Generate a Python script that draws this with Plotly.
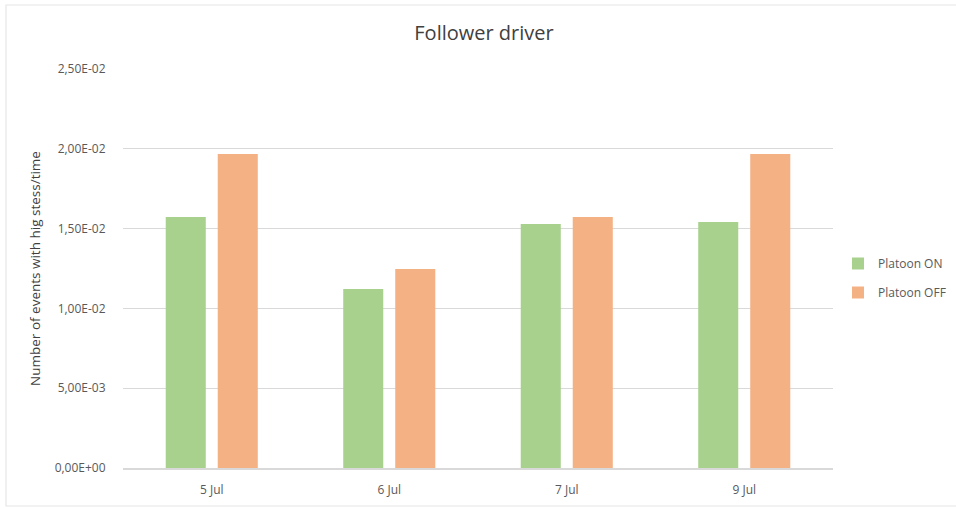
import plotly.graph_objects as go

# Dates of the driving sessions
categories = ["5 Jul", "6 Jul", "7 Jul", "9 Jul"]

# Number of high-stress events per unit time for the follower driver
platoon_on = [0.01573, 0.01122, 0.01529, 0.01541]
platoon_off = [0.01967, 0.01247, 0.01573, 0.01967]

# Y-axis ticks in Excel-style scientific notation with decimal comma
y_tick_vals = [0.0, 0.005, 0.01, 0.015, 0.02, 0.025]
y_tick_text = ["0,00E+00", "5,00E-03", "1,00E-02", "1,50E-02", "2,00E-02", "2,50E-02"]

W, H = 956, 508
L, R, T, B = 123, 123, 69, 40
pw, ph = W - L - R, H - T - B

def px_x(x):
    return (x - L) / pw

def px_y(y):
    return (H - B - y) / ph

font_family = "Open Sans, Liberation Sans, sans-serif"
text_grey = "#595959"

fig = go.Figure()
fig.add_trace(go.Bar(name="Platoon ON", x=categories, y=platoon_on, legendgroup="on",
                     marker=dict(color="#A9D18E", line=dict(width=0))))
fig.add_trace(go.Bar(name="Platoon OFF", x=categories, y=platoon_off, legendgroup="off",
                     marker=dict(color="#F4B183", line=dict(width=0))))

fig.update_layout(
    width=W, height=H,
    margin=dict(l=L, r=R, t=T, b=B, autoexpand=False),
    paper_bgcolor="white", plot_bgcolor="white",
    barmode="group", bargap=0.414, bargroupgap=0.23,
    font=dict(family=font_family, color=text_grey, size=12),
    title=dict(text="Follower driver", x=px_x(484), xref="paper", xanchor="center",
               y=1 - 33 / H, yanchor="middle",
               font=dict(size=20, color="#404040", family=font_family)),
    showlegend=True,
    legend=dict(x=px_x(838), xanchor="left", y=px_y(278), yanchor="middle",
                font=dict(size=12, color=text_grey), itemwidth=30,
                tracegroupgap=10, bgcolor="rgba(0,0,0,0)"),
    xaxis=dict(showline=True, linecolor="#d9d9d9", linewidth=1.5,
               ticks="outside", ticklen=10, tickcolor="rgba(0,0,0,0)",
               tickfont=dict(size=12, color=text_grey), showgrid=False),
    yaxis=dict(range=[0, 0.025], tickvals=y_tick_vals, ticktext=y_tick_text,
               showgrid=True, gridcolor="#d9d9d9", gridwidth=1.2, zeroline=False,
               ticks="outside", ticklen=14, tickcolor="rgba(0,0,0,0)",
               tickfont=dict(size=12, color=text_grey),
               title=dict(text="Number of events with hig stess/time",
                          font=dict(size=13.5, color="#404040"), standoff=10)),
    shapes=[dict(type="rect", xref="paper", yref="paper",
                 x0=px_x(6), x1=px_x(962), y0=px_y(506), y1=px_y(5),
                 line=dict(color="#e6e6e6", width=1.2), fillcolor="rgba(0,0,0,0)",
                 layer="below")],
)

fig.write_html("out.html")
